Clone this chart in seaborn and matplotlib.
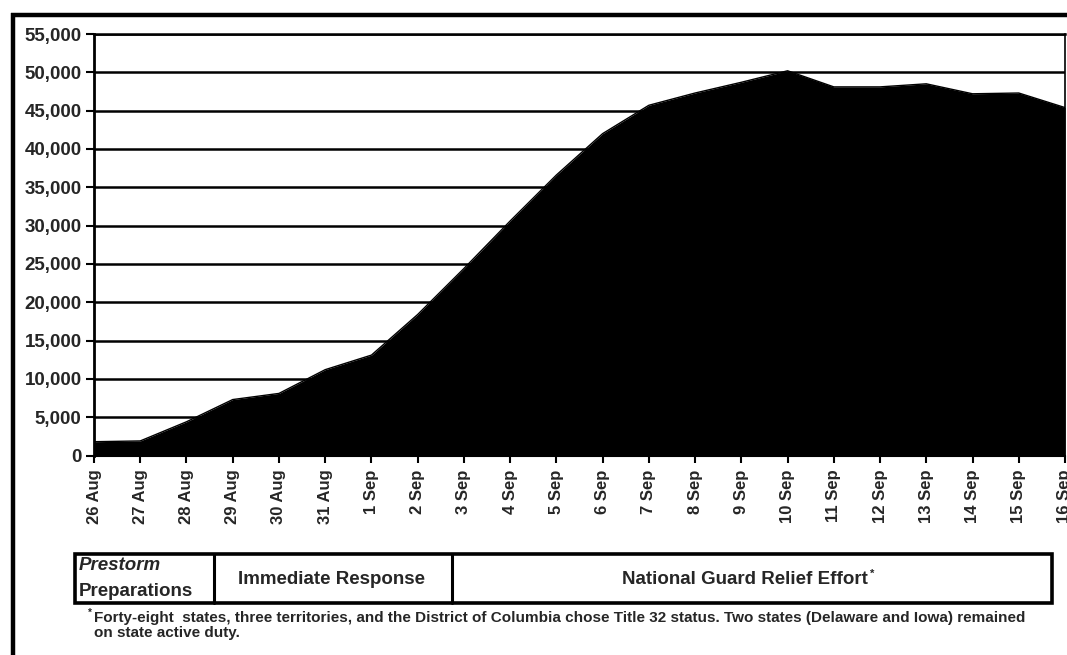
import matplotlib
matplotlib.use("Agg")
import matplotlib.pyplot as plt
from matplotlib.lines import Line2D
from matplotlib.patches import Rectangle
import seaborn as sns
import pandas as pd

# ---- data ----
dates = ["26 Aug", "27 Aug", "28 Aug", "29 Aug", "30 Aug", "31 Aug", "1 Sep",
         "2 Sep", "3 Sep", "4 Sep", "5 Sep", "6 Sep", "7 Sep", "8 Sep", "9 Sep",
         "10 Sep", "11 Sep", "12 Sep", "13 Sep", "14 Sep", "15 Sep", "16 Sep"]
troops = [1800, 1900, 4400, 7300, 8100, 11200, 13100,
          18400, 24400, 30600, 36600, 42000, 45700, 47300, 48700,
          50200, 48100, 48100, 48500, 47200, 47300, 45400]
y_ticks = [0, 5000, 10000, 15000, 20000, 25000, 30000, 35000, 40000, 45000, 50000, 55000]
phases = ["Prestorm\nPreparations", "Immediate Response", "National Guard Relief Effort"]
footnote_1 = "Forty-eight  states, three territories, and the District of Columbia chose Title 32 status. Two states (Delaware and Iowa) remained"
footnote_2 = "on state active duty."

sns.set_theme(style="white")
plt.rcParams["font.family"] = ["Liberation Sans", "DejaVu Sans"]
plt.rcParams["font.weight"] = "bold"

W, H = 1067, 655
fig = plt.figure(figsize=(W / 100, H / 100), dpi=100)
ax = fig.add_axes([94 / W, 1 - 455.5 / H, (1065 - 94) / W, (455.5 - 34) / H])

df = pd.DataFrame({"idx": range(len(dates)), "troops": troops})
sns.lineplot(data=df, x="idx", y="troops", ax=ax, color="black", lw=1, zorder=3)
ax.fill_between(df["idx"], df["troops"], 0, color="black", lw=0, zorder=3)

ax.set_xlim(0, len(dates) - 1)
ax.set_ylim(0, 55000)
ax.set_yticks(y_ticks)
ax.set_yticklabels([f"{v:,}" for v in y_ticks], fontsize=13.5, fontweight="bold")
ax.set_xticks(range(len(dates)))
ax.set_xticklabels(dates, rotation=90, fontsize=12, fontweight="bold")
ax.set_xlabel("")
ax.set_ylabel("")
ax.yaxis.grid(True, color="black", lw=1.8)
ax.xaxis.grid(False)
ax.set_axisbelow(True)
ax.tick_params(axis="y", direction="out", length=6, width=1.5, color="black", pad=3, left=True)
ax.tick_params(axis="x", direction="out", length=5, width=1.5, color="black", pad=5, bottom=True)
for side, sp in ax.spines.items():
    sp.set_color("black")
ax.spines["left"].set_linewidth(2)
ax.spines["bottom"].set_linewidth(1.5)
ax.spines["top"].set_linewidth(1.8)
ax.spines["right"].set_linewidth(1.2)

def fx(px):
    return px / W

def fy(py):
    return 1 - py / H

# outer frame lines (left and top)
fig.add_artist(Line2D([fx(12.5), fx(12.5)], [0, fy(12.5)], color="black", lw=3.2,
                      solid_capstyle="butt"))
fig.add_artist(Line2D([fx(11), 1], [fy(14.5), fy(14.5)], color="black", lw=3.2,
                      solid_capstyle="butt"))

# phase boxes
box_l, box_r, box_t, box_b = 75, 1052, 554, 603
fig.add_artist(Rectangle((fx(box_l), fy(box_b)), fx(box_r) - fx(box_l), fy(box_t) - fy(box_b),
                         fill=False, ec="black", lw=2.6))
for xd in (214, 452):
    fig.add_artist(Line2D([fx(xd), fx(xd)], [fy(box_b), fy(box_t)], color="black", lw=2.2))

box_fs = 13.5
fig.text(fx(79), fy(566), phases[0].split("\n")[0], fontsize=box_fs, fontweight="bold",
         style="italic", ha="left", va="center")
fig.text(fx(79), fy(591), phases[0].split("\n")[1], fontsize=box_fs, fontweight="bold",
         ha="left", va="center")
fig.text(fx(332), fy(579), phases[1], fontsize=box_fs, fontweight="bold", ha="center", va="center")
ng = fig.text(fx(745), fy(579), phases[2], fontsize=box_fs, fontweight="bold", ha="center", va="center")
fig.canvas.draw()
bb = ng.get_window_extent(fig.canvas.get_renderer())
fig.text(bb.x1 / W + fx(2), fy(574), "*", fontsize=8, fontweight="bold", ha="left", va="center")

# footnote
fig.text(fx(88), fy(613), "*", fontsize=7, fontweight="bold", ha="left", va="center")
fig.text(fx(94), fy(618), footnote_1, fontsize=11, fontweight="bold", ha="left", va="center")
fig.text(fx(94), fy(633), footnote_2, fontsize=11, fontweight="bold", ha="left", va="center")

fig.savefig("out.png", dpi=100, facecolor="white")
